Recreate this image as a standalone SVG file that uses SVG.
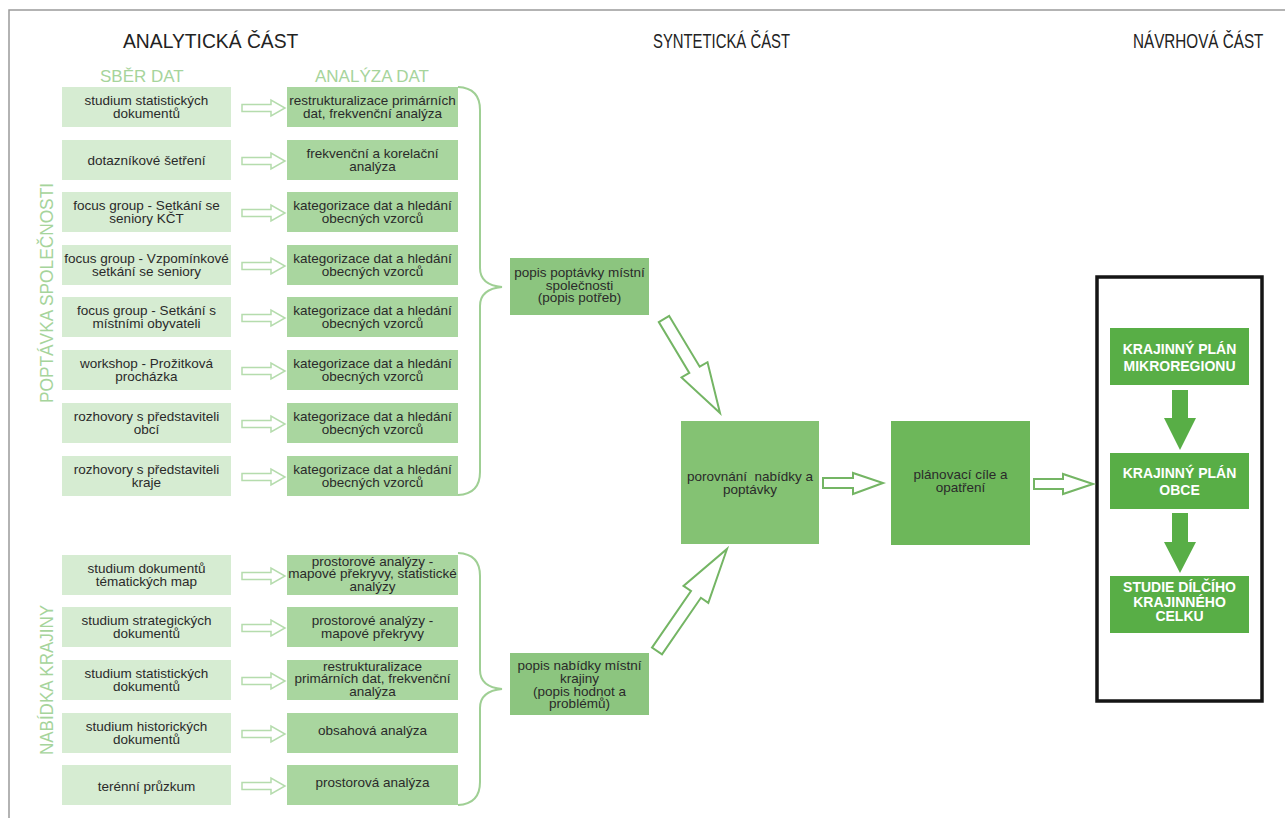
<svg xmlns="http://www.w3.org/2000/svg" xmlns:xlink="http://www.w3.org/1999/xlink" width="1285" height="818" viewBox="0 0 1285 818">
  <style>
    .hd { font-family: "Liberation Sans", Arial, sans-serif; font-size: 19.3px; fill: #222; }
    .sub { font-family: "Liberation Sans", Arial, sans-serif; font-size: 17px; fill: #a6d49b; }
    .vl { font-family: "Liberation Sans", Arial, sans-serif; font-size: 19px; fill: #a6d49b; text-anchor: middle; }
    .t { font-family: "Liberation Sans", Arial, sans-serif; font-size: 13.5px; fill: #2a2a2a; text-anchor: middle; }
    .tw { font-family: "Liberation Sans", Arial, sans-serif; font-size: 14px; font-weight: bold; fill: #fff; text-anchor: middle; }
    .sb { fill: #d6ecd2; }
    .an { fill: #a9d69f; }
    .pp { fill: #8cc57f; }
    .po { fill: #84c273; }
    .pl { fill: #6db75a; }
    .nv { fill: #58ae46; }
    .sarr { fill: #fff; stroke: #b5dcad; stroke-width: 1.5; }
    .brace { fill: none; stroke: #9fcf94; stroke-width: 2; }
    .barr { fill: #fff; stroke: #74b564; stroke-width: 2; stroke-linejoin: miter; }
    .darr { fill: #58ae46; }
  </style>
  <defs>
    <!-- small hollow arrow between data collection and analysis -->
    <path id="sarr" class="sarr" d="M0,-3.5 H29 V-8 L43,0 L29,8 V3.5 H0 Z"/>
  </defs>

  <rect width="1285" height="818" fill="#fff"/>
  <!-- page frame -->
  <path d="M9,818 V10 H1285" fill="none" stroke="#9b9b9b" stroke-width="1.5"/>

  <!-- section headers (the two right ones are set in a narrowed face) -->
  <g id="headers">
    <text class="hd" x="123" y="48">ANALYTICKÁ ČÁST</text>
    <text class="hd" transform="translate(653,48) scale(0.77,1)">SYNTETICKÁ ČÁST</text>
    <text class="hd" transform="translate(1133,48) scale(0.79,1)">NÁVRHOVÁ ČÁST</text>
    <text class="sub" x="100" y="82">SBĚR DAT</text>
    <text class="sub" x="315" y="82">ANALÝZA DAT</text>
    <text class="vl" transform="translate(53,293) rotate(-90)" textLength="220" lengthAdjust="spacingAndGlyphs">POPTÁVKA SPOLEČNOSTI</text>
    <text class="vl" transform="translate(53,680) rotate(-90)" textLength="150" lengthAdjust="spacingAndGlyphs">NABÍDKA KRAJINY</text>
  </g>

  <!-- demand side: data collection -->
  <g id="s1"><rect class="sb" x="62" y="87" width="169" height="40"/><text class="t" x="146.5" y="105">studium statistických</text><text class="t" x="146.5" y="117.5">dokumentů</text></g>
  <g id="s2"><rect class="sb" x="62" y="140" width="169" height="40"/><text class="t" x="146.5" y="164.5">dotazníkové šetření</text></g>
  <g id="s3"><rect class="sb" x="62" y="192" width="169" height="40"/><text class="t" x="146.5" y="210">focus group - Setkání se</text><text class="t" x="146.5" y="222.5">seniory KČT</text></g>
  <g id="s4"><rect class="sb" x="62" y="245" width="169" height="40"/><text class="t" x="146.5" y="263">focus group - Vzpomínkové</text><text class="t" x="146.5" y="275.5">setkání se seniory</text></g>
  <g id="s5"><rect class="sb" x="62" y="297" width="169" height="40"/><text class="t" x="146.5" y="315">focus group - Setkání s</text><text class="t" x="146.5" y="327.5">místními obyvateli</text></g>
  <g id="s6"><rect class="sb" x="62" y="350" width="169" height="40"/><text class="t" x="146.5" y="368">workshop - Prožitková</text><text class="t" x="146.5" y="380.5">procházka</text></g>
  <g id="s7"><rect class="sb" x="62" y="403" width="169" height="40"/><text class="t" x="146.5" y="421">rozhovory s představiteli</text><text class="t" x="146.5" y="433.5">obcí</text></g>
  <g id="s8"><rect class="sb" x="62" y="456" width="169" height="40"/><text class="t" x="146.5" y="474">rozhovory s představiteli</text><text class="t" x="146.5" y="486.5">kraje</text></g>

  <!-- demand side: analysis -->
  <g id="a1"><rect class="an" x="287" y="87" width="171" height="40"/><text class="t" x="372.5" y="105">restrukturalizace primárních</text><text class="t" x="372.5" y="117.5">dat, frekvenční analýza</text></g>
  <g id="a2"><rect class="an" x="287" y="140" width="171" height="40"/><text class="t" x="372.5" y="158">frekvenční a korelační</text><text class="t" x="372.5" y="170.5">analýza</text></g>
  <g id="a3"><rect class="an" x="287" y="192" width="171" height="40"/><text class="t" x="372.5" y="210">kategorizace dat a hledání</text><text class="t" x="372.5" y="222.5">obecných vzorců</text></g>
  <g id="a4"><rect class="an" x="287" y="245" width="171" height="40"/><text class="t" x="372.5" y="263">kategorizace dat a hledání</text><text class="t" x="372.5" y="275.5">obecných vzorců</text></g>
  <g id="a5"><rect class="an" x="287" y="297" width="171" height="40"/><text class="t" x="372.5" y="315">kategorizace dat a hledání</text><text class="t" x="372.5" y="327.5">obecných vzorců</text></g>
  <g id="a6"><rect class="an" x="287" y="350" width="171" height="40"/><text class="t" x="372.5" y="368">kategorizace dat a hledání</text><text class="t" x="372.5" y="380.5">obecných vzorců</text></g>
  <g id="a7"><rect class="an" x="287" y="403" width="171" height="40"/><text class="t" x="372.5" y="421">kategorizace dat a hledání</text><text class="t" x="372.5" y="433.5">obecných vzorců</text></g>
  <g id="a8"><rect class="an" x="287" y="456" width="171" height="40"/><text class="t" x="372.5" y="474">kategorizace dat a hledání</text><text class="t" x="372.5" y="486.5">obecných vzorců</text></g>

  <!-- supply side: data collection -->
  <g id="s9"><rect class="sb" x="62" y="555" width="169" height="40"/><text class="t" x="146.5" y="573">studium dokumentů</text><text class="t" x="146.5" y="585.5">tématických map</text></g>
  <g id="s10"><rect class="sb" x="62" y="607" width="169" height="40"/><text class="t" x="146.5" y="625">studium strategických</text><text class="t" x="146.5" y="637.5">dokumentů</text></g>
  <g id="s11"><rect class="sb" x="62" y="660" width="169" height="40"/><text class="t" x="146.5" y="678">studium statistických</text><text class="t" x="146.5" y="690.5">dokumentů</text></g>
  <g id="s12"><rect class="sb" x="62" y="713" width="169" height="40"/><text class="t" x="146.5" y="731">studium historických</text><text class="t" x="146.5" y="743.5">dokumentů</text></g>
  <g id="s13"><rect class="sb" x="62" y="765" width="169" height="40"/><text class="t" x="146.5" y="791">terénní průzkum</text></g>

  <!-- supply side: analysis -->
  <g id="a9"><rect class="an" x="287" y="555" width="171" height="40"/><text class="t" x="372.5" y="565.5">prostorové analýzy -</text><text class="t" x="372.5" y="578">mapové překryvy, statistické</text><text class="t" x="372.5" y="590.5">analýzy</text></g>
  <g id="a10"><rect class="an" x="287" y="607" width="171" height="40"/><text class="t" x="372.5" y="625">prostorové analýzy -</text><text class="t" x="372.5" y="637.5">mapové překryvy</text></g>
  <g id="a11"><rect class="an" x="287" y="660" width="171" height="40"/><text class="t" x="372.5" y="670.5">restrukturalizace</text><text class="t" x="372.5" y="683">primárních dat, frekvenční</text><text class="t" x="372.5" y="695.5">analýza</text></g>
  <g id="a12"><rect class="an" x="287" y="713" width="171" height="40"/><text class="t" x="372.5" y="735">obsahová analýza</text></g>
  <g id="a13"><rect class="an" x="287" y="765" width="171" height="40"/><text class="t" x="372.5" y="787">prostorová analýza</text></g>

  <!-- synthesis -->
  <g id="popis-poptavky"><rect class="pp" x="510" y="258" width="139" height="57"/><text class="t" x="579.5" y="277">popis poptávky místní</text><text class="t" x="579.5" y="289.5">společnosti</text><text class="t" x="579.5" y="302">(popis potřeb)</text></g>
  <g id="popis-nabidky"><rect class="pp" x="510" y="653" width="139" height="62"/><text class="t" x="579.5" y="670">popis nabídky místní</text><text class="t" x="579.5" y="683">krajiny</text><text class="t" x="579.5" y="695.5">(popis hodnot a</text><text class="t" x="579.5" y="708">problémů)</text></g>
  <g id="porovnani"><rect class="po" x="681" y="421" width="138" height="123"/><text class="t" x="750" y="481" xml:space="preserve">porovnání  nabídky a</text><text class="t" x="750" y="494">poptávky</text></g>
  <g id="planovaci"><rect class="pl" x="891" y="421" width="139" height="124"/><text class="t" x="960.5" y="479">plánovací cíle a</text><text class="t" x="960.5" y="492">opatření</text></g>

  <!-- proposal -->
  <g id="navrh">
    <rect x="1097" y="277" width="165" height="424" fill="none" stroke="#151515" stroke-width="3.5"/>
  </g>
  <g id="plan-mikroregionu"><rect class="nv" x="1110" y="328" width="139" height="57"/><text class="tw" x="1179.5" y="354">KRAJINNÝ PLÁN</text><text class="tw" x="1179.5" y="371">MIKROREGIONU</text></g>
  <g id="plan-obce"><rect class="nv" x="1110" y="453" width="139" height="56"/><text class="tw" x="1179.5" y="478">KRAJINNÝ PLÁN</text><text class="tw" x="1179.5" y="495">OBCE</text></g>
  <g id="studie"><rect class="nv" x="1110" y="576" width="139" height="57"/><text class="tw" x="1179.5" y="592">STUDIE DÍLČÍHO</text><text class="tw" x="1179.5" y="606.5">KRAJINNÉHO</text><text class="tw" x="1179.5" y="621">CELKU</text></g>

  <!-- connectors -->
  <g id="connectors">
    <use xlink:href="#sarr" x="242" y="108"/>
    <use xlink:href="#sarr" x="242" y="161"/>
    <use xlink:href="#sarr" x="242" y="213"/>
    <use xlink:href="#sarr" x="242" y="266"/>
    <use xlink:href="#sarr" x="242" y="318"/>
    <use xlink:href="#sarr" x="242" y="371"/>
    <use xlink:href="#sarr" x="242" y="424"/>
    <use xlink:href="#sarr" x="242" y="477"/>
    <use xlink:href="#sarr" x="242" y="576"/>
    <use xlink:href="#sarr" x="242" y="628"/>
    <use xlink:href="#sarr" x="242" y="681"/>
    <use xlink:href="#sarr" x="242" y="734"/>
    <use xlink:href="#sarr" x="242" y="786"/>

    <path class="brace" d="M458,87 Q480,88 480,110 V268 Q480,285 502,287 Q480,289 480,306 V472 Q480,494 458,495"/>
    <path class="brace" d="M458,553 Q480,554 480,576 V670 Q480,687 502,689 Q480,691 480,708 V782 Q480,804 458,805"/>

    <path class="barr" d="M669.2,315.9 L699.7,366.7 L707.5,362.2 L720,413 L681.5,377.4 L689.3,372.9 L658.8,322.1 Z"/>
    <path class="barr" d="M652,647.6 L691,591 L683.5,585.9 L727,549 L708.3,602.9 L700.9,597.8 L662,654.4 Z"/>
    <path class="barr" d="M823,478 H853 V473 L883,483 L853,494 V488 H823 Z"/>
    <path class="barr" d="M1034,479 H1063 V474 L1093,484 L1063,494 V489 H1034 Z"/>

    <path class="darr" d="M1172,390 H1188 V418 H1196 L1180,450 L1164,418 H1172 Z"/>
    <path class="darr" d="M1172,513 H1188 V542 H1196 L1180,573 L1164,542 H1172 Z"/>
  </g>
</svg>
